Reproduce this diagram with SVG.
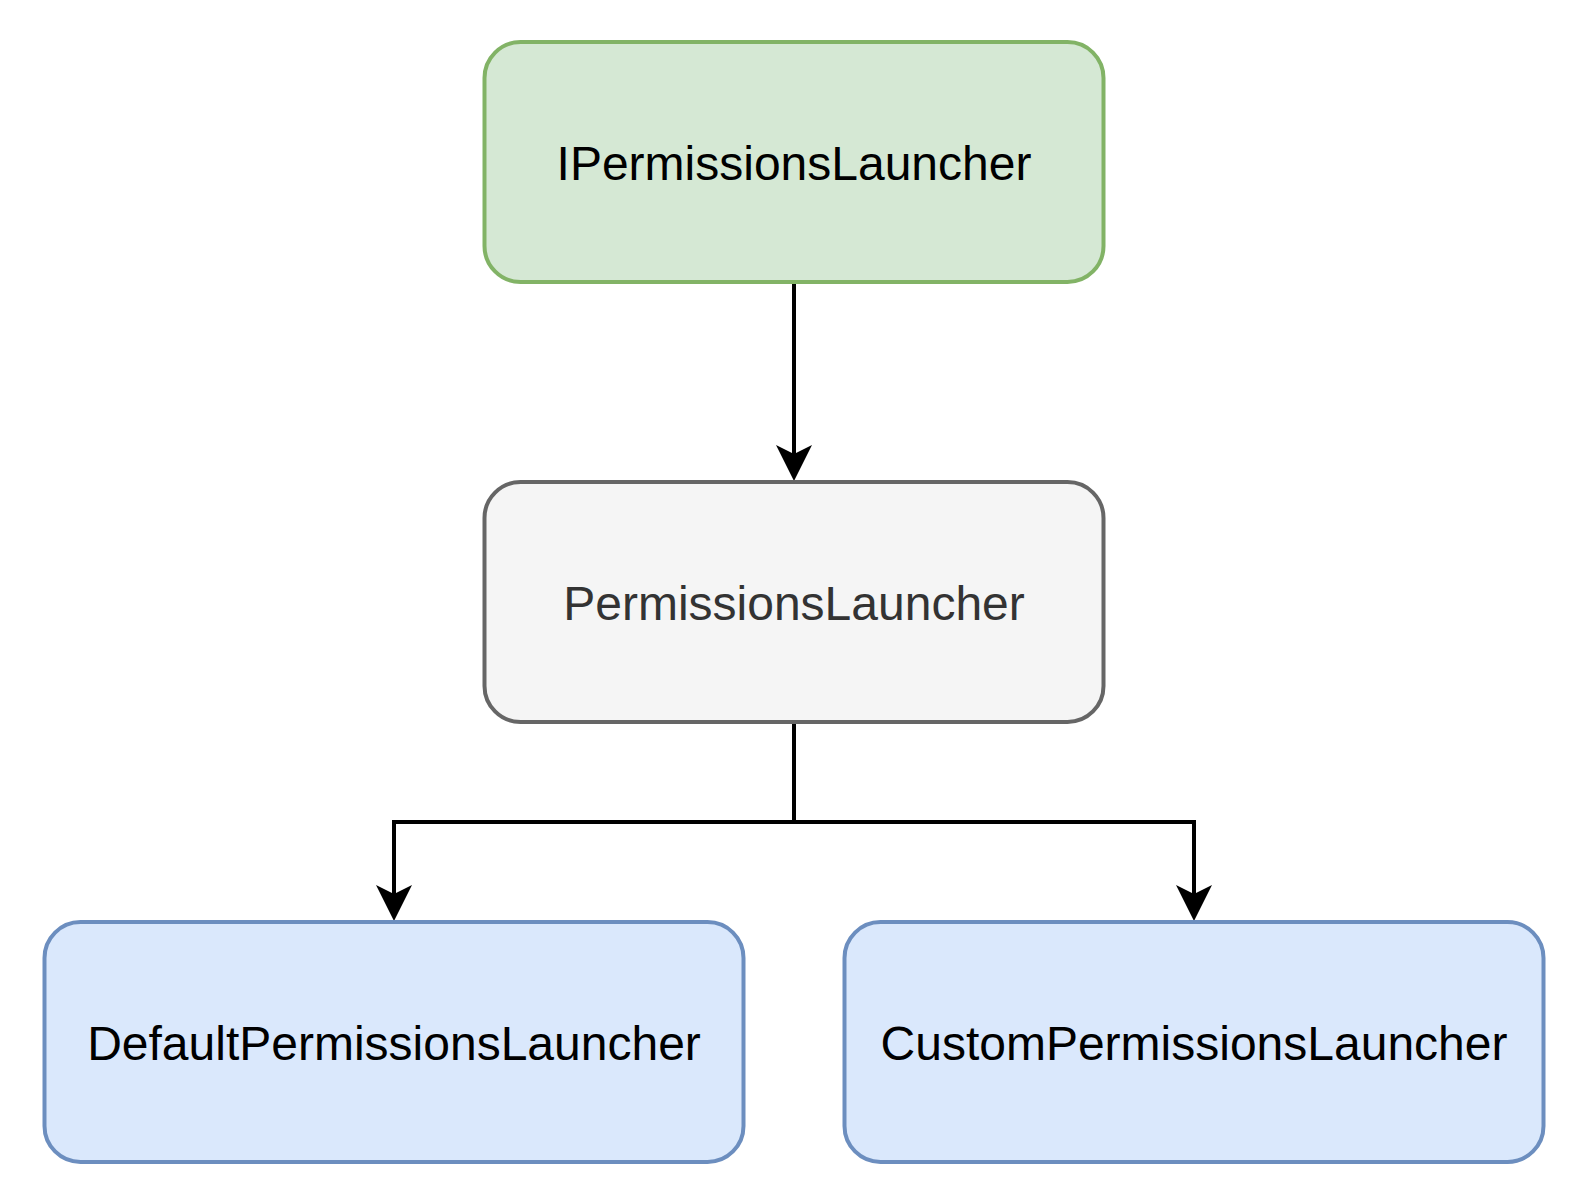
<svg xmlns="http://www.w3.org/2000/svg" width="1584" height="1204" viewBox="0 0 1584 1204">
<style>
.box{stroke-width:4}
.green{fill:#d5e8d4;stroke:#82b366}
.gray{fill:#f5f5f5;stroke:#666666}
.blue{fill:#dae8fc;stroke:#6c8ebf}
.lbl{font-family:"Liberation Sans",Arial,sans-serif;font-size:48px;text-anchor:middle;fill:#000}
.conn{fill:none;stroke:#000;stroke-width:4}
.head{fill:#000;stroke:none}
</style>
<rect width="1584" height="1204" fill="#ffffff"/>
<g id="connectors">
<path class="conn" d="M794 282 V460"/>
<polygon class="head" points="794,481 776,445 794,454 812,445"/>
<path class="conn" d="M794 722 V822 H394 V900"/>
<polygon class="head" points="394,921 376,885 394,894 412,885"/>
<path class="conn" d="M794 822 H1194 V900"/>
<polygon class="head" points="1194,921 1176,885 1194,894 1212,885"/>
</g>
<g id="node-ipermissionslauncher">
<rect class="box green" x="484.5" y="42" width="619" height="240" rx="36" ry="36"/>
<text class="lbl" x="794" y="180">IPermissionsLauncher</text>
</g>
<g id="node-permissionslauncher">
<rect class="box gray" x="484.5" y="482" width="619" height="240" rx="36" ry="36"/>
<text class="lbl" x="794" y="620" style="fill:#333333">PermissionsLauncher</text>
</g>
<g id="node-defaultpermissionslauncher">
<rect class="box blue" x="44.5" y="922" width="699" height="240" rx="36" ry="36"/>
<text class="lbl" x="394" y="1060">DefaultPermissionsLauncher</text>
</g>
<g id="node-custompermissionslauncher">
<rect class="box blue" x="844.5" y="922" width="699" height="240" rx="36" ry="36"/>
<text class="lbl" x="1194" y="1060">CustomPermissionsLauncher</text>
</g>
</svg>
